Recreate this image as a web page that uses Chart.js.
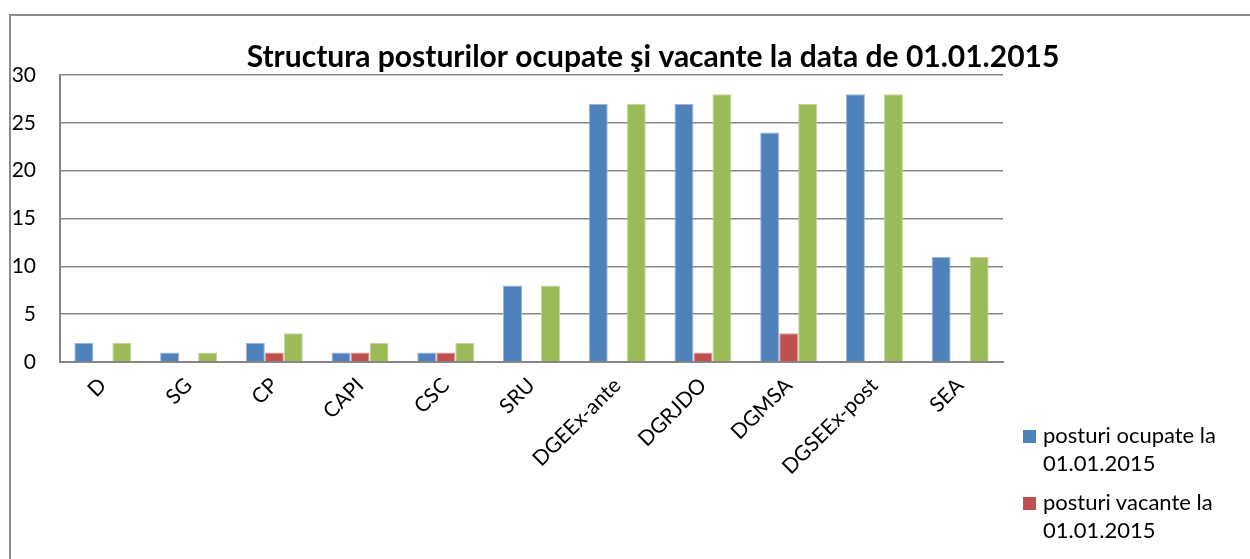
<!DOCTYPE html>
<html>
<head>
<meta charset="utf-8">
<script src="https://cdn.jsdelivr.net/npm/chart.js@4.4.1/dist/chart.umd.min.js"></script>
<style>
  html, body { margin: 0; padding: 0; background: #fff; overflow: hidden; width: 1250px; height: 559px; }
  #frame { position: absolute; left: 9px; top: 14px; width: 1288px; height: 600px; border: 2px solid #8c8c8c; box-sizing: border-box; }
  #chartCanvas { position: absolute; left: 9px; top: 14px; }
  #legend { position: absolute; left: 1023px; top: 421px; font-family: Lato, sans-serif; font-size: 22px; color: #000; }
  .item { display: flex; align-items: flex-start; margin-bottom: 11px; }
  .swatch { width: 13px; height: 13px; margin-top: 9px; margin-right: 7px; flex: none; }
  .label { width: 200px; line-height: 28px; }
</style>
</head>
<body>
<div id="frame"></div>
<canvas id="chartCanvas" width="1288" height="600"></canvas>
<div id="legend"></div>
<script>
// data
const categories = ['D', 'SG', 'CP', 'CAPI', 'CSC', 'SRU', 'DGEEx-ante', 'DGRJDO', 'DGMSA', 'DGSEEx-post', 'SEA'];
const ocupate = [2, 1, 2, 1, 1, 8, 27, 27, 24, 28, 11];
const vacante = [0, 0, 1, 1, 1, 0, 0, 1, 3, 0, 0];
const total = [2, 1, 3, 2, 2, 8, 27, 28, 27, 28, 11];
const yTicks = [0, 5, 10, 15, 20, 25, 30];
const seriesLabels = ['posturi ocupate la 01.01.2015', 'posturi vacante la 01.01.2015', 'total posturi la 01.01.2015'];
const seriesColors = ['#4F81BD', '#C0504D', '#9BBB59'];
const seriesBorders = ['#9db5d8', '#dc9c9a', '#c3d69f'];
const legendCount = 2; // the third entry is below the visible area

const gridGray = '#868686';

const ctx = document.getElementById('chartCanvas').getContext('2d');
window.postChart = new Chart(ctx, {
    type: 'bar',
    data: {
        labels: categories,
        datasets: [ocupate, vacante, total].map((vals, i) => ({
            label: seriesLabels[i],
            data: vals,
            backgroundColor: seriesColors[i],
            borderColor: seriesBorders[i],
            borderWidth: 1,
            barPercentage: 1,
            categoryPercentage: 0.665
        }))
    },
    options: {
        responsive: false,
        animation: false,
        devicePixelRatio: 1,
        layout: { padding: { top: 25, right: 0, left: 0, bottom: 0 } },
        plugins: {
            legend: { display: false },
            tooltip: { enabled: false },
            title: {
                display: true,
                text: 'Structura posturilor ocupate şi vacante la data de 01.01.2015',
                color: '#000',
                font: { family: 'Lato', size: 30, weight: 'bold' },
                padding: { top: 0, bottom: 0 }
            }
        },
        scales: {
            x: {
                grid: { display: false, drawTicks: false },
                border: { display: true, color: gridGray, width: 2 },
                ticks: {
                    color: '#000',
                    font: { family: 'Lato', size: 21 },
                    minRotation: 45,
                    maxRotation: 45,
                    autoSkip: false,
                    padding: 11
                },
                afterFit: function(scale) { scale.height = 252; }
            },
            y: {
                min: 0,
                max: 30,
                afterBuildTicks: function(scale) {
                    scale.ticks = yTicks.map(v => ({ value: v }));
                },
                grid: { color: gridGray, lineWidth: 1.5, drawTicks: false },
                border: { display: true, color: gridGray, width: 2 },
                ticks: {
                    color: '#000',
                    font: { family: 'Lato', size: 21 },
                    padding: 24
                },
                afterFit: function(scale) { scale.width = 51; }
            },
            // empty right-hand box that keeps room for the legend
            side: {
                position: 'right',
                min: 0,
                max: 30,
                grid: { display: false, drawTicks: false },
                border: { display: false },
                ticks: { display: false },
                afterFit: function(scale) { scale.width = 294; }
            }
        }
    }
});

// legend with wrapped text, like the original
const legendBox = document.getElementById('legend');
for (let i = 0; i < legendCount; i++) {
    const item = document.createElement('div');
    item.className = 'item';
    item.innerHTML = '<div class="swatch" style="background:' + seriesColors[i] + '"></div>' +
        '<div class="label">' + seriesLabels[i] + '</div>';
    legendBox.appendChild(item);
}
</script>
</body>
</html>
